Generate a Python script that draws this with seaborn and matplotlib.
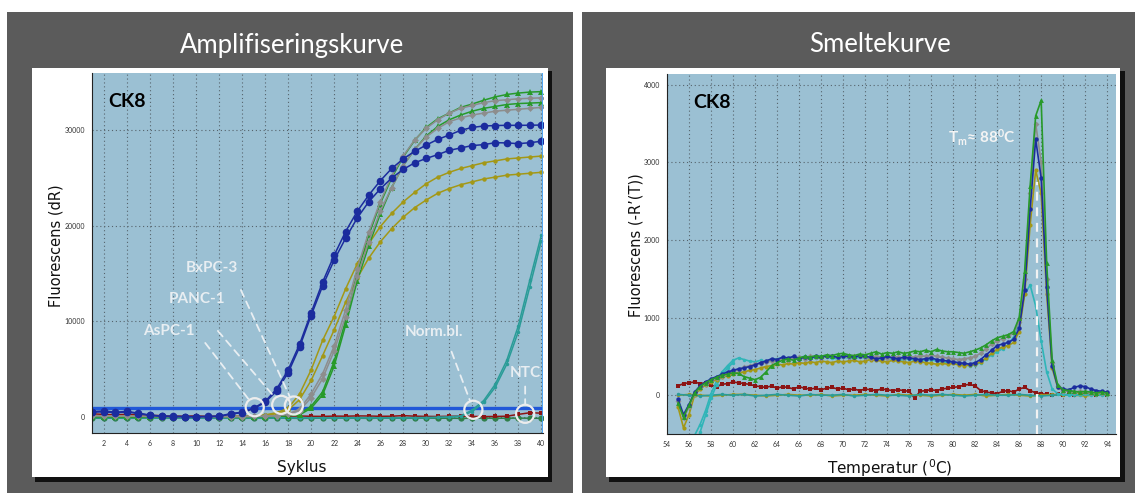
import numpy as np
import pandas as pd
import matplotlib
matplotlib.use('Agg')
import matplotlib.pyplot as plt
from matplotlib.patches import Rectangle
from matplotlib.ticker import MultipleLocator
import seaborn as sns

W, H = 1135, 493

# ---------------- amplification curves (cycle 1..40) ----------------
cycles = np.arange(1, 41)

blue_a = [550, 600, 480, 560, 380, 180, 70, 40, 20, 10,
          30, 60, 330, 480, 900, 1600, 2900, 4900, 7600, 10900,
          14100, 16900, 19400, 21500, 23200, 24700, 26000, 27000, 27800, 28450,
          29050, 29500, 30000, 30300, 30450, 30500, 30520, 30520, 30530, 30550]
blue_b = [480, 520, 420, 500, 330, 140, 50, 20, 10, 0,
          20, 40, 280, 430, 850, 1500, 2700, 4600, 7300, 10600,
          13700, 16400, 18700, 20800, 22500, 23850, 25000, 25900, 26600, 27050,
          27450, 27900, 28150, 28400, 28500, 28700, 28680, 28600, 28700, 28850]
grey_1 = [120, 100, 80, 60, 60, 40, 30, 20, 10, 0,
          0, 0, 10, 20, 40, 60, 120, 300, 800, 2400,
          4500, 7400, 11200, 15500, 19300, 22500, 25200, 27300, 29000, 30200,
          31100, 31800, 32300, 32600, 32900, 33100, 33200, 33300, 33350, 33400]
grey_2 = [100, 90, 70, 60, 50, 30, 20, 10, 0, 0,
          0, 10, 10, 20, 30, 50, 100, 250, 650, 2000,
          4000, 6900, 10500, 14700, 18300, 21500, 24000, 26300, 28000, 29300,
          30200, 30900, 31300, 31600, 31800, 32000, 32100, 32200, 32300, 32400]
green_1 = [20, 10, 0, -20, -10, -30, -20, -40, -30, -20,
           -30, -20, -10, 0, 10, 30, 60, 130, 300, 1100,
           2600, 5800, 10100, 15000, 19000, 22300, 25000, 27200, 28950, 30300,
           31200, 31800, 32400, 32750, 33150, 33500, 33750, 33900, 34000, 34050]
green_2 = [0, -10, -20, -30, -20, -40, -30, -50, -40, -30,
           -40, -30, -20, -10, 0, 20, 50, 100, 200, 900,
           2300, 5300, 9600, 14200, 17900, 21200, 24000, 26300, 28000, 29400,
           30400, 31100, 31600, 32000, 32300, 32500, 32700, 32800, 32850, 32900]
olive_1 = [60, 50, 40, 30, 30, 20, 10, 10, 0, 0,
           10, 10, 20, 40, 90, 200, 420, 900, 2400, 4900,
           8000, 10500, 13400, 16000, 18100, 19900, 21300, 22500, 23500, 24400,
           25100, 25600, 26000, 26300, 26600, 26800, 27000, 27100, 27200, 27300]
olive_2 = [50, 40, 30, 30, 20, 10, 10, 0, 0, 0,
           0, 10, 20, 30, 70, 150, 320, 700, 1800, 3800,
           6400, 9100, 12000, 14500, 16600, 18300, 19700, 20900, 21900, 22700,
           23400, 23900, 24300, 24600, 24900, 25100, 25300, 25400, 25500, 25600]
teal_1 = [-80, -100, -90, -110, -100, -120, -100, -90, -110, -100,
          -120, -100, -110, -90, -100, -110, -120, -100, -90, -110,
          -100, -120, -110, -100, -90, -110, -100, -120, -100, -80,
          -60, -20, 80, 700, 1700, 3400, 5900, 9500, 14300, 19000]
teal_2 = [-100, -110, -120, -100, -90, -110, -130, -100, -120, -110,
          -100, -120, -100, -110, -120, -100, -90, -110, -120, -100,
          -110, -100, -120, -110, -100, -120, -110, -100, -90, -100,
          -70, -40, 40, 550, 1500, 3100, 5500, 8900, 13600, 18400]
flat_green = [-150, -160, -140, -170, -150, -130, -160, -150, -140, -150,
              -160, -150, -140, -170, -150, -160, -140, -150, -170, -160,
              -150, -140, -160, -150, -170, -150, -140, -160, -150, -140,
              -160, -150, -170, -150, -140, -160, -150, -140, -150, -160]
flat_red = [300, 250, 200, 260, 180, 150, 120, 80, 60, 90,
            40, 60, 30, 50, 20, 40, 30, 60, 80, 50,
            40, 70, 60, 90, 80, 50, 60, 120, 60, 40,
            30, 50, 60, 40, 20, 30, 60, 250, 420, 380]

threshold = 900
ct_cycles = [15.1, 17.4, 18.5, 34.1, 38.6]
ct_values = [1000, 1250, 1180, 730, 310]
sample_names = ['AsPC-1', 'PANC-1', 'BxPC-3', 'Norm.bl.', 'NTC']

# ---------------- melt curves ----------------
temps = np.arange(55.0, 94.01, 0.5)   # 79 readings

melt_blue = [-50, -250, -120, 40, 120, 170, 210, 240, 270, 300,
             320, 340, 350, 370, 390, 420, 440, 470, 460, 490,
             480, 500, 470, 490, 480, 500, 490, 510, 500, 490,
             510, 500, 490, 510, 500, 490, 470, 480, 500, 480,
             470, 490, 480, 470, 460, 470, 480, 460, 450, 440,
             430, 420, 410, 400, 420, 460, 520, 580, 640, 660,
             680, 720, 860, 1350, 2400, 3300, 2800, 1400, 380, 110,
             80, 70, 100, 120, 110, 80, 60, 50, 40]
melt_grey = [-80, -300, -150, 20, 100, 150, 190, 220, 250, 280,
             300, 330, 360, 380, 400, 410, 430, 440, 450, 470,
             460, 480, 490, 470, 500, 490, 480, 500, 510, 490,
             500, 490, 510, 500, 490, 480, 500, 490, 480, 500,
             490, 480, 500, 490, 510, 500, 520, 500, 490, 480,
             470, 460, 470, 480, 500, 540, 600, 660, 700, 730,
             760, 800, 950, 1500, 2600, 3500, 3000, 1500, 420, 120,
             60, 50, 40, 50, 40, 30, 40, 30, 30]
melt_green = [-100, -280, -130, 30, 110, 160, 200, 230, 260, 270,
              290, 280, 240, 220, 200, 230, 300, 380, 420, 450,
              470, 450, 480, 500, 490, 510, 500, 520, 510, 530,
              540, 520, 510, 530, 520, 540, 560, 530, 550, 540,
              560, 540, 550, 570, 560, 580, 560, 590, 570, 560,
              560, 550, 540, 560, 580, 610, 650, 700, 740, 760,
              780, 820, 1000, 1600, 2700, 3600, 3800, 1700, 450, 130,
              70, 60, 50, 40, 50, 40, 30, 40, 30]
melt_olive = [-150, -420, -250, 0, 80, 130, 170, 200, 230, 250,
              270, 290, 300, 320, 330, 350, 370, 380, 400, 390,
              410, 400, 420, 410, 430, 420, 440, 430, 420, 440,
              430, 440, 450, 430, 440, 460, 450, 440, 430, 450,
              440, 430, 420, 440, 430, 420, 410, 400, 410, 400,
              410, 390, 380, 390, 400, 430, 480, 540, 590, 620,
              640, 680, 820, 1300, 2200, 2900, 2600, 1300, 350, 100,
              60, 50, 40, 30, 40, 30, 20, 30, 20]
melt_cyan = [-1100, -900, -700, -520, -380, -200, 20, 180, 300, 380,
             450, 480, 460, 440, 430, 450, 430, 460, 470, 480,
             470, 490, 480, 500, 490, 480, 500, 490, 480, 470,
             490, 480, 470, 490, 480, 470, 460, 470, 480, 460,
             450, 460, 470, 450, 440, 450, 460, 440, 430, 420,
             410, 400, 390, 380, 390, 420, 470, 520, 560, 600,
             650, 750, 950, 1300, 1420, 1150, 700, 300, 80, 20,
             10, 0, 10, 0, 10, 0, 10, 0, 0]
melt_red = [120, 150, 160, 170, 150, 160, 130, 110, 140, 150,
            170, 160, 150, 140, 120, 110, 100, 120, 90, 110,
            100, 80, 110, 90, 80, 90, 70, 90, 100, 80,
            90, 70, 80, 60, 80, 70, 60, 80, 70, 60,
            70, 60, 50, -40, 50, 60, 70, 60, 80, 90,
            100, 110, 130, 140, 120, 60, 40, 30, 20, 50,
            60, 40, 80, 100, 60, 30, 20, 10, 0, 10,
            0, 10, 0, 10, 20, 10, 0, 10, 0]

cyan2_temps = [56.5, 57.0, 57.5, 58.0, 58.5, 59.0, 59.5, 60.0]
melt_cyan2 = [-700, -480, -260, -40, 130, 260, 350, 420]

ntc_temps = np.arange(55, 95, 1)
ntc_green = [10, 0, -10, 0, 10, 0, 10, -10, 0, 10,
             0, -10, 10, 0, 0, 10, -10, 0, 10, 0,
             0, -10, 10, 0, 10, 0, -10, 0, 10, 0,
             0, 10, 0, -10, 0, 10, 0, 10, 0, 0]
ntc_olive = [0, 10, 0, -10, 0, 10, 10, 0, -10, 0,
             10, 0, 0, 10, -10, 0, 0, 10, 0, -10,
             10, 0, 0, -10, 0, 10, 0, 10, -10, 0,
             10, 0, -10, 0, 10, 0, 0, -10, 10, 0]
tm_value = 87.6

# ---------------- style ----------------
sns.set_style('white')
plt.rcParams['font.family'] = ['Lato', 'DejaVu Sans']
plt.rcParams['mathtext.default'] = 'regular'

c_blue = '#1b2c9e'
c_grey = '#8d8d8d'
c_green = '#279a2a'
c_olive = '#a39816'
c_teal = '#2a9c98'
c_cyan = '#2fb5b8'
c_red = '#8c1414'
c_dgreen = '#2f7f4a'
bg_blue = '#9bc0d3'

fig = plt.figure(figsize=(W / 100, H / 100), dpi=100)
fig.patch.set_facecolor('white')


def frac(x0, y0, x1, y1):
    return (x0 / W, 1 - y1 / H), (x1 - x0) / W, (y1 - y0) / H


def add_box(x0, y0, x1, y1, color, z):
    xy, w, h = frac(x0, y0, x1, y1)
    fig.patches.append(Rectangle(xy, w, h, transform=fig.transFigure,
                                 facecolor=color, edgecolor='none', zorder=z))


# dark panels, shadows and white boxes
add_box(7, 12, 573, 493, '#5b5b5b', -5)
add_box(582, 12, 1135, 493, '#5b5b5b', -5)
add_box(35, 71, 552, 482, '#111111', -4)
add_box(609, 71, 1125, 482, '#111111', -4)
add_box(32, 68, 548, 477, 'white', -3)
add_box(606, 68, 1120, 477, 'white', -3)

fig.text(292 / W, 1 - 45 / H, 'Amplifiseringskurve', color='white',
         fontsize=18.5, ha='center', va='center')
fig.text(880 / W, 1 - 45 / H, 'Smeltekurve', color='white',
         fontsize=18.5, ha='center', va='center')

xy, w, h = frac(92, 73, 543, 433)
ax1 = fig.add_axes([xy[0], xy[1], w, h])
xy, w, h = frac(667, 74, 1116, 434)
ax2 = fig.add_axes([xy[0], xy[1], w, h])

for ax in (ax1, ax2):
    ax.set_facecolor(bg_blue)
    for s in ('top', 'right'):
        ax.spines[s].set_visible(False)
    for s in ('left', 'bottom'):
        ax.spines[s].set_color('#222222')
        ax.spines[s].set_linewidth(0.8)
    ax.grid(True, which='major', ls=(0, (1, 2.5)), color='#56646c', lw=0.8)
    ax.tick_params(which='both', direction='out', labelsize=5,
                   labelcolor='#333333', color='#222222', pad=2)
    ax.tick_params(which='major', length=3, width=0.7)
    ax.tick_params(which='minor', length=2, width=0.6)

# ---------------- left: amplification ----------------
amp_series = [
    (flat_green, c_dgreen, 'o', 4.5),
    (flat_red, c_red, 's', 3),
    (teal_2, c_teal, 'o', 2.5),
    (teal_1, c_teal, 'o', 2.5),
    (olive_2, c_olive, 'o', 3.2),
    (olive_1, c_olive, 'o', 3.2),
    (green_2, c_green, '^', 4),
    (green_1, c_green, '^', 4),
    (grey_2, c_grey, 'D', 3.5),
    (grey_1, c_grey, 'D', 3.5),
    (blue_b, c_blue, 'o', 5.5),
    (blue_a, c_blue, 'o', 5.5),
]
ax1.axhline(threshold, color='#2158d8', lw=2.4, zorder=2.2)
for vals, col, mk, ms in amp_series:
    sns.lineplot(x=cycles, y=vals, color=col, marker=mk, markersize=ms,
                 markeredgewidth=0, lw=1.1, ax=ax1, legend=False, zorder=2.5)

ax1.scatter(ct_cycles, ct_values, s=170, facecolors='none',
            edgecolors='#ececec', linewidths=1.6, zorder=5)

label_pos = [(7.6, 8990), (10.1, 12330), (11.4, 15570), (30.7, 8910), (38.6, 4630)]
line_start = [(10.8, 7730), (11.9, 8990), (13.9, 13270), (32.2, 6820), (38.6, 3170)]
for name, (tx, ty), (sx, sy), cx, cy in zip(sample_names, label_pos, line_start,
                                            ct_cycles, ct_values):
    ax1.text(tx, ty, name, color='#e8eef2', fontsize=11, fontweight='bold',
             ha='center', va='center', zorder=6)
    ax1.annotate('', xy=(cx, cy), xytext=(sx, sy),
                 arrowprops=dict(arrowstyle='-', color='#e8eef2', lw=1.3,
                                 linestyle=(0, (4, 3)), shrinkA=0, shrinkB=7),
                 zorder=6)

ax1.axvline(40.12, color='#4aa3f5', lw=2, zorder=6)
ax1.set_xlim(0.96, 40.15)
ax1.set_ylim(-1700, 36000)
ax1.xaxis.set_major_locator(MultipleLocator(2))
ax1.xaxis.set_minor_locator(MultipleLocator(1))
ax1.yaxis.set_major_locator(MultipleLocator(10000))
ax1.yaxis.set_minor_locator(MultipleLocator(5000))
ax1.text(0.078, 0.92, 'CK8', transform=ax1.transAxes, fontsize=14,
         fontweight='bold', color='black', ha='center', va='center')
ax1.set_xlabel('Syklus', fontsize=11, family='DejaVu Sans', color='#111111')
ax1.set_ylabel('Fluorescens (dR)', fontsize=10.5, family='DejaVu Sans', color='#111111')
ax1.xaxis.set_label_coords(0.466, -0.097)
ax1.xaxis.label.set_va('center')
ax1.yaxis.set_label_coords(-0.08, 0.52)
ax1.yaxis.label.set_va('center')

# ---------------- right: melt curve ----------------
melt_series = [
    (temps, melt_red, c_red, 's', 3.2),
    (ntc_temps, ntc_olive, c_olive, 'o', 2.5),
    (ntc_temps, ntc_green, c_teal, 'o', 2.5),
    (cyan2_temps, melt_cyan2, c_cyan, 'o', 2.5),
    (temps, melt_cyan, c_cyan, 'o', 2.5),
    (temps, melt_olive, c_olive, 'o', 3),
    (temps, melt_grey, c_grey, 'D', 3),
    (temps, melt_blue, c_blue, 'o', 3.2),
    (temps, melt_green, c_green, '^', 3.5),
]
for tx, vals, col, mk, ms in melt_series:
    sns.lineplot(x=tx, y=vals, color=col, marker=mk, markersize=ms,
                 markeredgewidth=0, lw=1.2, ax=ax2, legend=False, zorder=2.5)

ax2.plot([tm_value, tm_value], [-500, 2750], color='#f2f2f2', lw=1.6,
         ls=(0, (4, 3)), zorder=4)
ax2.text(82.6, 3320, r'T$_{m}$≈ 88$^{0}$C', color='#f4f4f4', fontsize=11,
         fontweight='bold', ha='center', va='center', zorder=6)
ax2.set_xlim(54, 94.8)
ax2.set_ylim(-500, 4140)
ax2.xaxis.set_major_locator(MultipleLocator(2))
ax2.xaxis.set_minor_locator(MultipleLocator(1))
ax2.yaxis.set_major_locator(MultipleLocator(1000))
ax2.yaxis.set_minor_locator(MultipleLocator(500))
ax2.text(0.1, 0.92, 'CK8', transform=ax2.transAxes, fontsize=14,
         fontweight='bold', color='black', ha='center', va='center')
ax2.set_xlabel(r'Temperatur ($^{0}$C)', fontsize=11, family='DejaVu Sans', color='#111111')
ax2.set_ylabel('Fluorescens (-R’(T))', fontsize=10.5, family='DejaVu Sans', color='#111111')
ax2.xaxis.set_label_coords(0.497, -0.094)
ax2.xaxis.label.set_va('center')
ax2.yaxis.set_label_coords(-0.069, 0.525)
ax2.yaxis.label.set_va('center')

fig.savefig('out.png', dpi=100)
